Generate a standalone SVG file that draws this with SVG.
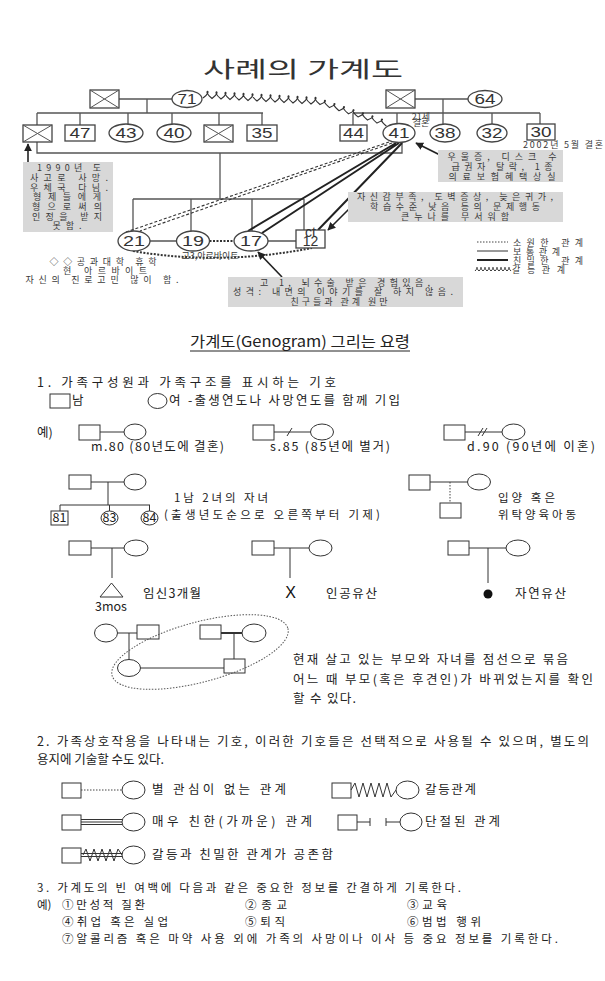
<svg xmlns="http://www.w3.org/2000/svg" width="605" height="981" viewBox="0 0 605 981">
<defs>
<style>
.s{fill:#fff;stroke:#444;stroke-width:1.3}
.s2{fill:#fff;stroke:#333;stroke-width:1}
.x{fill:none;stroke:#555;stroke-width:1}
.l{fill:none;stroke:#555;stroke-width:1.3}
.l2{fill:none;stroke:#333;stroke-width:1}
.lt{fill:none;stroke:#222;stroke-width:2}
.ld{fill:none;stroke:#333;stroke-width:1.1;stroke-dasharray:3 2}
.ldt{fill:none;stroke:#333;stroke-width:2;stroke-dasharray:2 1.5}
.ldot{fill:none;stroke:#444;stroke-width:1;stroke-dasharray:1.5 1.5}
.ar{fill:none;stroke:#222;stroke-width:1.6}
.gb{fill:#d8d8d8}
.n{font-family:"Liberation Sans",Arial,sans-serif;font-size:14px;fill:#333;text-anchor:middle}
.t9{font-family:"Noto Sans CJK KR","Noto Sans",sans-serif;font-size:9px;fill:#3a3a3a}
.t11{font-family:"Noto Sans CJK KR","Noto Sans",sans-serif;font-size:12.5px;fill:#222}
.sm{font-size:11.5px}
.c{text-anchor:middle}
</style>
<marker id="ah" viewBox="0 0 10 10" refX="9" refY="5" markerWidth="8" markerHeight="8" orient="auto" markerUnits="userSpaceOnUse"><path d="M0,0 L10,5 L0,10 z" fill="#222"/></marker>
</defs>
<rect width="605" height="981" fill="#fff"/>

<g id="title"><text x="303" y="77" class="c" font-family="'Noto Sans CJK KR',sans-serif" font-size="22" fill="#333" textLength="200" lengthAdjust="spacingAndGlyphs">사례의 가계도</text></g>

<g id="connectors">
<path class="l" d="M119,99 H172 M147,99 V113 M37,113 H263 M37,113 V125 M80,113 V125 M128,113 V124 M172,113 V124 M219,113 V125 M262,113 V125"/>
<path class="l" d="M37,142 V153 H402 V142"/>
<path class="l" d="M415,99 H468 M443,99 V124 M353,113 H540 M353,113 V125 M397,113 V123.5 M492,113 V124 M540,113 V124"/>
<path class="l" d="M220,153 V199 M133,199 H304 M133,199 V231 M191,199 V231 M252,199 V231 M304,199 V230"/>
<path class="l" d="M150,241 H176.5 M268,241 H296"/>
<path class="ldt" d="M209.5,241 H234"/>
<path class="ld" d="M389,142 L126,232 M392,143 L140,231"/>
<path class="lt" d="M396,143 L248,231 M399,143 L262,233 M402,143 L318,230"/>
<path class="ldt" d="M133,251 Q220,266 312,248"/>
<path fill="none" stroke="#333" stroke-width="1.1" d="M203,98 c12,-9 -3,-9 9,0.5 c12,-9 -3,-9 9,0.5 c12,-9 -3,-9 9,0.5 c12,-9 -3,-9 9,0.5 c12,-9 -3,-9 9,0.5 c12,-9 -3,-9 9,0.5 c12,-9 -3,-9 9,0.5 c12,-9 -3,-9 9,0.5 c12,-9 -3,-9 9,0.5 c12,-9 -3,-9 9,0.5 c12,-9 -3,-9 9,0.5 c12,-9 -3,-9 9,0.5 c12,-9 -3,-9 9,0.5 c13,-5 -3,-7 9.5,3.1 c13,-5 -3,-7 9.5,3.1 c13,-5 -3,-7 9.5,3.1 c13,-5 -3,-7 9.5,3.1 c13,-5 -3,-7 9.5,3.1 c13,-5 -3,-7 9.5,3.1 c13,-5 -3,-7 9.5,3.1"/>
<path class="ar" marker-end="url(#ah)" d="M28,162 L28,144"/>
<path class="ar" marker-end="url(#ah)" d="M440,155 L416,143"/>
<path class="ar" marker-end="url(#ah)" d="M350,208 L328,230"/>
<path class="ar" marker-end="url(#ah)" d="M282,277 L258,252"/>
</g>

<g id="gf-left"><rect class="s" x="90" y="90" width="29" height="18"/><path class="x" d="M90,90 L119,108 M119,90 L90,108"/></g>
<g id="gm-left"><ellipse class="s" cx="187" cy="99" rx="15" ry="8.5"/><text class="n" x="187" y="104" textLength="19" lengthAdjust="spacingAndGlyphs">71</text></g>
<g id="son-dead"><rect class="s" x="23" y="125" width="29" height="17"/><path class="x" d="M23,125 L52,142 M52,125 L23,142"/></g>
<g id="n47"><rect class="s" x="65" y="125" width="30" height="16"/><text class="n" x="80" y="138" textLength="21" lengthAdjust="spacingAndGlyphs">47</text></g>
<g id="n43"><ellipse class="s" cx="126" cy="133" rx="17" ry="9"/><text class="n" x="126" y="138" textLength="21" lengthAdjust="spacingAndGlyphs">43</text></g>
<g id="n40"><ellipse class="s" cx="174" cy="133" rx="17" ry="9"/><text class="n" x="174" y="138" textLength="21" lengthAdjust="spacingAndGlyphs">40</text></g>
<g id="sib-dead"><rect class="s" x="204" y="125" width="29" height="17"/><path class="x" d="M204,125 L233,142 M233,125 L204,142"/></g>
<g id="n35"><rect class="s" x="247" y="125" width="30" height="16"/><text class="n" x="262" y="138" textLength="21" lengthAdjust="spacingAndGlyphs">35</text></g>

<g id="gf-right"><rect class="s" x="386" y="90" width="29" height="18"/><path class="x" d="M386,90 L415,108 M415,90 L386,108"/></g>
<g id="gm-right"><ellipse class="s" cx="485" cy="99" rx="17" ry="8.5"/><text class="n" x="485" y="104" textLength="21" lengthAdjust="spacingAndGlyphs">64</text></g>
<g id="n44"><rect class="s" x="340" y="125" width="27" height="16"/><text class="n" x="353.5" y="138" textLength="21" lengthAdjust="spacingAndGlyphs">44</text></g>
<g id="n41"><ellipse class="s" cx="399" cy="133" rx="16" ry="9.5"/><text class="n" x="399" y="138" textLength="21" lengthAdjust="spacingAndGlyphs">41</text></g>
<g id="n38"><ellipse class="s" cx="445" cy="133" rx="15" ry="9"/><text class="n" x="445" y="138" textLength="21" lengthAdjust="spacingAndGlyphs">38</text></g>
<g id="n32"><ellipse class="s" cx="492" cy="133" rx="15" ry="9"/><text class="n" x="492" y="138" textLength="21" lengthAdjust="spacingAndGlyphs">32</text></g>
<g id="n30"><rect class="s" x="527" y="124" width="28" height="16"/><text class="n" x="541" y="137" textLength="21" lengthAdjust="spacingAndGlyphs">30</text></g>
<g id="marriage-note"><text class="t9 c" x="421" y="119.5" font-size="6">21세</text><text class="t9 c" x="421" y="126" font-size="6">결혼</text></g>
<g id="n30-note"><text class="t9" x="523" y="148" font-size="7.5" textLength="80">2002년 5월 결혼</text></g>

<g id="c21"><ellipse class="s" cx="134" cy="241" rx="16" ry="10"/><text class="n" x="134" y="246" textLength="22" lengthAdjust="spacingAndGlyphs">21</text></g>
<g id="c19"><ellipse class="s" cx="193" cy="241" rx="16.5" ry="10"/><text class="n" x="193" y="246" textLength="22" lengthAdjust="spacingAndGlyphs">19</text></g>
<g id="c17"><ellipse class="s" cx="251" cy="241" rx="17" ry="10"/><text class="n" x="251" y="246" textLength="22" lengthAdjust="spacingAndGlyphs">17</text></g>
<g id="c12"><rect class="s" x="296" y="230" width="29" height="18"/><text class="n" x="310.5" y="237" font-size="6.5">ct</text><text class="n" x="310.5" y="245.5" font-size="7">12</text></g>
<g id="c19-note"><text class="t9 c" x="210" y="258.5" font-size="6.5">고3,아르바이트</text></g>

<g id="note-left">
<rect class="gb" x="23" y="162" width="90" height="70"/>
<text class="t9 c" x="69" y="171" textLength="64">1990년 도</text>
<text class="t9 c" x="69" y="181" textLength="78">사고로 사망.</text>
<text class="t9 c" x="69" y="190.5" textLength="78">우체국 다님.</text>
<text class="t9 c" x="67" y="200" textLength="68">형제들에게</text>
<text class="t9 c" x="67" y="210" textLength="70">형으로써의</text>
<text class="t9 c" x="67" y="219.5" textLength="70">인정을 받지</text>
<text class="t9 c" x="67" y="229" textLength="29">못함.</text>
</g>
<g id="note-41">
<rect class="gb" x="438" y="150" width="125" height="32"/>
<text class="t9 c" x="502" y="160" textLength="109">우울증, 디스크 수</text>
<text class="t9 c" x="502" y="170" textLength="101">급권자 탈락, 1종</text>
<text class="t9 c" x="502" y="180" textLength="107">의료보험혜택상실</text>
</g>
<g id="note-12">
<rect class="gb" x="348" y="192" width="215" height="30"/>
<text class="t9 c" x="455" y="200" textLength="196">자신감부족, 도벽증상, 늦은귀가,</text>
<text class="t9 c" x="455" y="210" textLength="170">학습수준 낮음 등의 문제행동</text>
<text class="t9 c" x="455" y="220" textLength="108">큰누나를 무서워함</text>
</g>
<g id="note-21">
<text class="t9 c" x="103" y="265" textLength="107">◇◇공과대학 휴학</text>
<text class="t9 c" x="105" y="274" textLength="84">현 아르바이트</text>
<text class="t9 c" x="102" y="283" textLength="153">자신의 진로고민 많이 함.</text>
</g>
<g id="note-17">
<rect class="gb" x="228" y="277" width="235" height="30"/>
<text class="t9 c" x="345" y="285.5" textLength="170">고 1, 뇌수술 받은 경험있음,</text>
<text class="t9 c" x="343" y="295" textLength="220">성격: 내면의 이야기를 잘 하지 않음.</text>
<text class="t9 c" x="339" y="304.5" textLength="97">친구들과 관계 원만</text>
</g>
<g id="legend">
<path class="ldot" d="M477,242 H508"/>
<path class="l2" d="M477,251 H508"/>
<path class="lt" d="M477,260 H508"/>
<path fill="none" stroke="#333" stroke-width="1" d="M475,271 c5,-5 -1,-5 4,0 c5,-5 -1,-5 4,0 c5,-5 -1,-5 4,0 c5,-5 -1,-5 4,0 c5,-5 -1,-5 4,0 c5,-5 -1,-5 4,0 c5,-5 -1,-5 4,0 c5,-5 -1,-5 4,0 c5,-5 -1,-5 4,0"/>
<text class="t9" x="513" y="245.5" textLength="70">소원한 관계</text>
<text class="t9" x="513" y="254.5" textLength="47">보통관계</text>
<text class="t9" x="513" y="263.5" textLength="70">친밀한 관계</text>
<text class="t9" x="512" y="272.5" textLength="53">갈등관계</text>
</g>

<g id="guide-title">
<text x="190" y="347" font-family="'Noto Sans CJK KR',sans-serif" font-size="15" fill="#222" textLength="220" lengthAdjust="spacingAndGlyphs">가계도(Genogram) 그리는 요령</text>
<path d="M190,351 H410" stroke="#222" stroke-width="1"/>
</g>

<g id="sec1-text">
<text class="t11" x="37" y="387" textLength="299">1. 가족구성원과 가족구조를 표시하는 기호</text>
<text class="t11" x="72" y="405">남</text>
<text class="t11" x="169" y="405">여</text>
<text class="t11" x="188" y="405" textLength="212">-출생연도나 사망연도를 함께 기입</text>
<text class="t11" x="37" y="437">예)</text>
<text class="t11" x="91" y="451" textLength="133">m.80 (80년도에 결혼)</text>
<text class="t11" x="270" y="451" textLength="120">s.85 (85년에 별거)</text>
<text class="t11" x="467" y="451" textLength="128">d.90 (90년에 이혼)</text>
<text class="t11 sm" x="174" y="502" textLength="94">1남 2녀의 자녀</text>
<text class="t11 sm" x="164" y="519" textLength="216">(출생년도순으로 오른쪽부터 기제)</text>
<text class="t11 sm" x="498" y="502" textLength="57">입양 혹은</text>
<text class="t11 sm" x="498" y="519" textLength="78">위탁양육아동</text>
<text class="t11" x="143" y="598" textLength="58">임신3개월</text>
<text class="t11" x="95" y="611" font-family="'Liberation Sans',sans-serif" font-size="11.5">3mos</text>
<text class="t11" x="326" y="598" textLength="51">인공유산</text>
<text class="t11" x="515" y="598" textLength="51">자연유산</text>
<text class="t11" x="293" y="664" textLength="275">현재 살고 있는 부모와 자녀를 점선으로 묶음</text>
<text class="t11" x="293" y="684" textLength="300">어느 때 부모(혹은 후견인)가 바뀌었는지를 확인</text>
<text class="t11" x="293" y="703" textLength="63">할 수 있다.</text>
</g>

<g id="sym-male"><rect class="s2" x="50" y="394" width="20" height="14"/></g>
<g id="sym-female"><ellipse class="s2" cx="157.5" cy="401" rx="9.5" ry="7.5"/></g>

<g id="ex-married"><rect class="s2" x="79" y="425" width="21" height="15"/><path class="l2" d="M100,432 H124"/><ellipse class="s2" cx="135" cy="432" rx="11" ry="8"/></g>
<g id="ex-separated"><rect class="s2" x="253" y="425" width="21" height="15"/><path class="l2" d="M274,432 H311 M287,436 L292,428"/><ellipse class="s2" cx="322" cy="432" rx="11.5" ry="8"/></g>
<g id="ex-divorced"><rect class="s2" x="444" y="425" width="21" height="15"/><path class="l2" d="M465,432 H502 M478,436 L483,428 M482,436 L487,428"/><ellipse class="s2" cx="513.5" cy="432" rx="11.5" ry="8"/></g>

<g id="ex-children">
<path class="l2" d="M91,482 H124 M108,482 V505 M60,505 H150 M60,505 V511 M109.5,505 V511 M149.5,505 V511"/>
<rect class="s2" x="69" y="475" width="22" height="14"/><ellipse class="s2" cx="135" cy="482" rx="11" ry="8"/>
<rect class="s2" x="51" y="511" width="17" height="14"/><text class="t11 c" x="59.5" y="522" font-family="'Liberation Sans',sans-serif" font-size="10">81</text>
<ellipse class="s2" cx="109.5" cy="518" rx="8.5" ry="7"/><text class="t11 c" x="109.5" y="522" font-family="'Liberation Sans',sans-serif" font-size="10">83</text>
<ellipse class="s2" cx="149.5" cy="518" rx="8.5" ry="7"/><text class="t11 c" x="149.5" y="522" font-family="'Liberation Sans',sans-serif" font-size="10">84</text>
</g>
<g id="ex-adopted">
<path class="l2" d="M430,482 H467.5"/><path class="ldot" d="M450,482 V503"/>
<rect class="s2" x="409" y="475" width="21" height="15"/><ellipse class="s2" cx="479" cy="482" rx="11.5" ry="8"/>
<rect class="s2" x="440" y="503" width="21" height="15"/>
</g>
<g id="ex-pregnant">
<path class="l2" d="M91,548 H124 M112,548 V578"/>
<rect class="s2" x="69" y="541" width="22" height="14"/><ellipse class="s2" cx="136" cy="548" rx="12" ry="8"/>
<path class="s2" d="M100,597 L111.5,583 L123,597 Z"/>
</g>
<g id="ex-abortion">
<path class="l2" d="M274,548 H309 M290,548 V578"/>
<rect class="s2" x="252" y="541" width="22" height="14"/><ellipse class="s2" cx="320.5" cy="548" rx="11.5" ry="8"/>
<text x="290.5" y="597.5" class="c" font-family="'Liberation Sans',sans-serif" font-size="16" fill="#111">X</text>
</g>
<g id="ex-miscarriage">
<path class="l2" d="M469,548 H506 M488,548 V583"/>
<rect class="s2" x="448" y="541" width="21" height="14"/><ellipse class="s2" cx="518" cy="548" rx="12" ry="8"/>
<circle cx="488" cy="594" r="4.5" fill="#111"/>
</g>
<g id="ex-household">
<path class="l2" d="M117.5,633 H137 M129,633 V659.5 M140.5,668 H224 M234,633 V659"/>
<path fill="none" stroke="#333" stroke-width="2" d="M221,633 H242"/>
<ellipse class="s2" cx="106" cy="633" rx="11.5" ry="9"/>
<rect class="s2" x="137" y="625" width="22" height="14"/>
<ellipse class="s2" cx="129" cy="668" rx="11.5" ry="8.5"/>
<rect class="s2" x="224" y="659" width="21" height="14"/>
<rect class="s2" x="200" y="625" width="21" height="14"/>
<ellipse class="s2" cx="254" cy="633" rx="12" ry="9"/>
<ellipse fill="none" stroke="#555" stroke-width="1" stroke-dasharray="1.5 1.5" cx="200" cy="652" rx="91" ry="30" transform="rotate(-15 200 652)"/>
</g>

<g id="sec2-text">
<text class="t11" x="37" y="746" textLength="552">2. 가족상호작용을 나타내는 기호, 이러한 기호들은 선택적으로 사용될 수 있으며, 별도의</text>
<text class="t11" x="37" y="764">용지에 기술할 수도 있다.</text>
<text class="t11" x="152" y="794" textLength="134">별 관심이 없는 관계</text>
<text class="t11" x="425" y="794" textLength="51">갈등관계</text>
<text class="t11" x="152" y="826" textLength="160">매우 친한(가까운) 관계</text>
<text class="t11" x="425" y="826" textLength="75">단절된 관계</text>
<text class="t11" x="152" y="859" textLength="181">갈등과 친밀한 관계가 공존함</text>
</g>
<g id="rel-distant"><rect class="s2" x="62" y="783" width="19" height="15"/><path class="ldot" d="M81,790 H122"/><ellipse class="s2" cx="133.5" cy="790" rx="11.5" ry="9"/></g>
<g id="rel-conflict"><rect class="s2" x="332" y="783" width="19" height="15"/><path class="l2" d="M351,790 L355,783 L359,797 L363,783 L367,797 L371,783 L375,797 L379,783 L383,797 L387,783 L391,797 L396,790"/><ellipse class="s2" cx="407.5" cy="790" rx="11.5" ry="9"/></g>
<g id="rel-close"><rect class="s2" x="62" y="815" width="19" height="15"/><path class="l2" d="M81,819.5 H122 M81,822 H122 M81,824.5 H122"/><ellipse class="s2" cx="133.5" cy="822" rx="11.5" ry="9"/></g>
<g id="rel-cutoff"><rect class="s2" x="338" y="815" width="19" height="15"/><path class="l2" d="M357,822 H370 M370,818 V826 M386,818 V826 M386,822 H400"/><ellipse class="s2" cx="411" cy="822" rx="11" ry="9"/></g>
<g id="rel-mixed"><rect class="s2" x="62" y="848" width="19" height="15"/><path class="l2" d="M81,853.5 H122 M81,856.5 H122 M83,855 L86,849 L90,861 L94,849 L98,861 L102,849 L106,861 L110,849 L114,861 L118,849 L122,855"/><ellipse class="s2" cx="133.5" cy="855" rx="11.5" ry="9"/></g>

<g id="sec3-text">
<text class="t11 sm" x="37" y="892" textLength="424">3. 가계도의 빈 여백에 다음과 같은 중요한 정보를 간결하게 기록한다.</text>
<text class="t11 sm" x="37" y="909">예)</text>
<text class="t11 sm" x="62" y="909" textLength="83">①만성적 질환</text>
<text class="t11 sm" x="245" y="909" textLength="42">②종교</text>
<text class="t11 sm" x="407" y="909" textLength="40">③교육</text>
<text class="t11 sm" x="62" y="926" textLength="106">④취업 혹은 실업</text>
<text class="t11 sm" x="245" y="926" textLength="40">⑤퇴직</text>
<text class="t11 sm" x="407" y="926" textLength="74">⑥범법 행위</text>
<text class="t11 sm" x="62" y="943" textLength="496">⑦알콜리즘 혹은 마약 사용 외에 가족의 사망이나 이사 등 중요 정보를 기록한다.</text>
</g>
</svg>
